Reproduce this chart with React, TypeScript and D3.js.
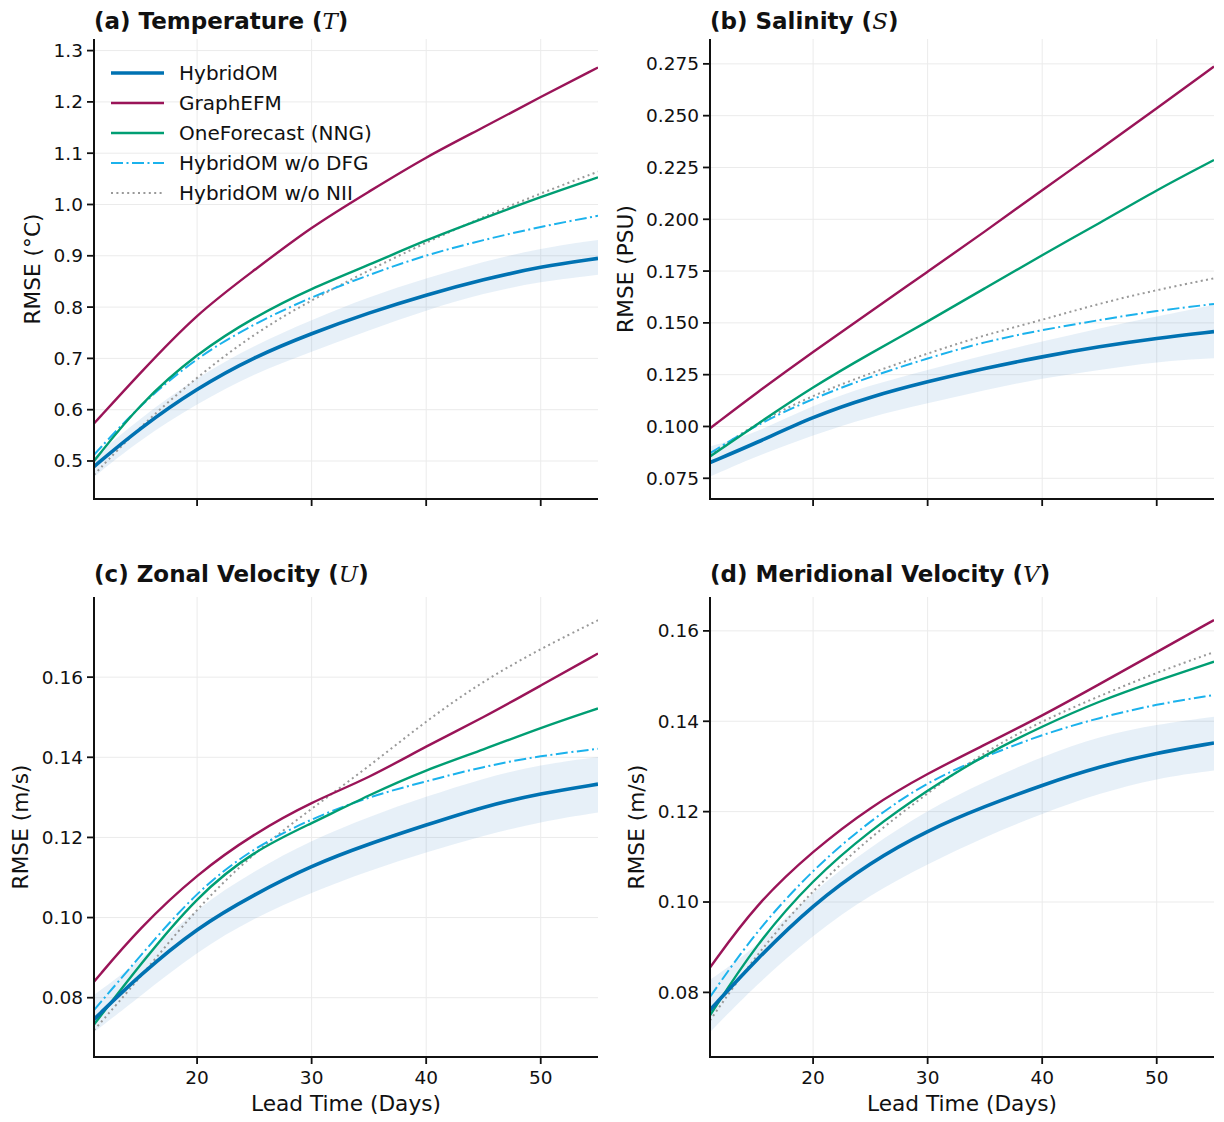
import React from "react";
import * as d3 from "d3";

const DAYS = [11, 15, 20, 25, 30, 35, 40, 45, 50, 55];

// Panel (a) Temperature
const T_HYBRID = [0.489, 0.564, 0.642, 0.703, 0.749, 0.789, 0.824, 0.854, 0.879, 0.895];
const T_HYBRID_LO = [0.469, 0.541, 0.612, 0.671, 0.713, 0.755, 0.794, 0.827, 0.85, 0.863];
const T_HYBRID_HI = [0.508, 0.583, 0.664, 0.726, 0.775, 0.82, 0.856, 0.889, 0.915, 0.931];
const T_GRAPHEFM = [0.573, 0.671, 0.788, 0.872, 0.957, 1.025, 1.093, 1.15, 1.21, 1.267];
const T_ONEFC = [0.5, 0.612, 0.71, 0.781, 0.837, 0.882, 0.931, 0.973, 1.015, 1.053];
const T_NODFG = [0.512, 0.609, 0.703, 0.768, 0.82, 0.863, 0.902, 0.931, 0.957, 0.978];
const T_NONII = [0.473, 0.567, 0.664, 0.749, 0.814, 0.872, 0.926, 0.976, 1.022, 1.064];

// Panel (b) Salinity
const S_HYBRID = [0.0826, 0.0919, 0.1048, 0.1144, 0.1217, 0.1281, 0.1337, 0.1386, 0.1426, 0.1458];
const S_HYBRID_LO = [0.0758, 0.0855, 0.0959, 0.1048, 0.1112, 0.1176, 0.1233, 0.1273, 0.1313, 0.1329];
const S_HYBRID_HI = [0.0903, 0.0967, 0.1104, 0.12, 0.1273, 0.1345, 0.141, 0.1474, 0.153, 0.1587];
const S_GRAPHEFM = [0.0991, 0.116, 0.1361, 0.1554, 0.1747, 0.194, 0.2142, 0.2335, 0.2536, 0.2737];
const S_ONEFC = [0.0855, 0.1007, 0.1192, 0.1353, 0.1506, 0.1667, 0.1828, 0.1981, 0.2142, 0.2286];
const S_NODFG = [0.0871, 0.1007, 0.1136, 0.1241, 0.1329, 0.141, 0.1466, 0.1514, 0.1559, 0.1591];
const S_NONII = [0.0863, 0.1015, 0.1152, 0.1257, 0.1353, 0.1442, 0.1514, 0.1594, 0.1659, 0.1715];

// Panel (c) Zonal velocity
const U_HYBRID = [0.0746, 0.0857, 0.0975, 0.1058, 0.113, 0.1184, 0.1231, 0.1277, 0.131, 0.1333];
const U_HYBRID_LO = [0.0714, 0.0803, 0.0916, 0.1, 0.1063, 0.1117, 0.1163, 0.1205, 0.1239, 0.1262];
const U_HYBRID_HI = [0.0807, 0.0891, 0.1025, 0.1117, 0.1193, 0.1252, 0.1302, 0.1348, 0.1382, 0.1401];
const U_GRAPHEFM = [0.084, 0.0975, 0.1109, 0.121, 0.1289, 0.1348, 0.1428, 0.1499, 0.1579, 0.1659];
const U_ONEFC = [0.0733, 0.0882, 0.1054, 0.1168, 0.1235, 0.1306, 0.1369, 0.1419, 0.1474, 0.1522];
const U_NODFG = [0.0769, 0.0903, 0.1067, 0.1176, 0.1247, 0.1302, 0.134, 0.1377, 0.1404, 0.1421];
const U_NONII = [0.0719, 0.0849, 0.1025, 0.1163, 0.1272, 0.1377, 0.1491, 0.1591, 0.1671, 0.1742];

// Panel (d) Meridional velocity
const V_HYBRID = [0.0761, 0.0872, 0.0995, 0.1088, 0.1159, 0.1212, 0.1259, 0.13, 0.133, 0.1352];
const V_HYBRID_LO = [0.0712, 0.0816, 0.0928, 0.1017, 0.1084, 0.1144, 0.1196, 0.1241, 0.1274, 0.1291];
const V_HYBRID_HI = [0.0828, 0.0898, 0.1025, 0.1122, 0.1204, 0.1267, 0.1322, 0.1367, 0.1393, 0.141];
const V_GRAPHEFM = [0.0855, 0.0995, 0.1114, 0.1211, 0.1285, 0.1348, 0.1412, 0.1482, 0.1553, 0.1624];
const V_ONEFC = [0.0749, 0.0906, 0.1051, 0.1159, 0.1248, 0.1326, 0.1389, 0.1445, 0.149, 0.1532];
const V_NODFG = [0.079, 0.0935, 0.1073, 0.1181, 0.1267, 0.1322, 0.1371, 0.1408, 0.1438, 0.1458];
const V_NONII = [0.0738, 0.0883, 0.1028, 0.1144, 0.1241, 0.1334, 0.1401, 0.1456, 0.1508, 0.1553];

const X_TICKS = [20, 30, 40, 50];
const T_TICKS = [0.5, 0.6, 0.7, 0.8, 0.9, 1.0, 1.1, 1.2, 1.3];
const S_TICKS = [0.075, 0.1, 0.125, 0.15, 0.175, 0.2, 0.225, 0.25, 0.275];
const U_TICKS = [0.08, 0.1, 0.12, 0.14, 0.16];
const V_TICKS = [0.08, 0.1, 0.12, 0.14, 0.16];

const SERIES_NAMES = ["HybridOM", "GraphEFM", "OneForecast (NNG)", "HybridOM w/o DFG", "HybridOM w/o NII"];

const STYLES = [
  { color: "#0072B2", width: 3.6, dash: null },
  { color: "#9A1458", width: 2.4, dash: null },
  { color: "#009E73", width: 2.4, dash: null },
  { color: "#1BB2EC", width: 2.0, dash: "12,3.5,2,3.5" },
  { color: "#999999", width: 2.0, dash: "2,3.4" },
];

const FONT = "DejaVu Sans, Verdana, sans-serif";

const PANELS = [
  { tag: "(a) Temperature (", sym: "T", ylabel: "RMSE (°C)", domain: [0.4259, 1.3226], ticks: T_TICKS, fmt: ".1f",
    series: [T_HYBRID, T_GRAPHEFM, T_ONEFC, T_NODFG, T_NONII], lo: T_HYBRID_LO, hi: T_HYBRID_HI,
    left: 94, top: 39, titleY: 29, ylabX: 32, legend: true, xlabels: false },
  { tag: "(b) Salinity (", sym: "S", ylabel: "RMSE (PSU)", domain: [0.065, 0.287], ticks: S_TICKS, fmt: ".3f",
    series: [S_HYBRID, S_GRAPHEFM, S_ONEFC, S_NODFG, S_NONII], lo: S_HYBRID_LO, hi: S_HYBRID_HI,
    left: 710, top: 39, titleY: 29, ylabX: 625, legend: false, xlabels: false },
  { tag: "(c) Zonal Velocity (", sym: "U", ylabel: "RMSE (m/s)", domain: [0.0652, 0.18], ticks: U_TICKS, fmt: ".2f",
    series: [U_HYBRID, U_GRAPHEFM, U_ONEFC, U_NODFG, U_NONII], lo: U_HYBRID_LO, hi: U_HYBRID_HI,
    left: 94, top: 597, titleY: 582, ylabX: 20, legend: false, xlabels: true },
  { tag: "(d) Meridional Velocity (", sym: "V", ylabel: "RMSE (m/s)", domain: [0.0657, 0.1675], ticks: V_TICKS, fmt: ".2f",
    series: [V_HYBRID, V_GRAPHEFM, V_ONEFC, V_NODFG, V_NONII], lo: V_HYBRID_LO, hi: V_HYBRID_HI,
    left: 710, top: 597, titleY: 582, ylabX: 636, legend: false, xlabels: true },
];

const PW = 504;
const PH = 460;

function Panel({ p, idx }: { p: any; idx: number }) {
  const x = d3.scaleLinear().domain([11, 55]).range([p.left, p.left + PW]);
  const y = d3.scaleLinear().domain(p.domain).range([p.top + PH, p.top]);
  const bottom = p.top + PH;
  const fmt = d3.format(p.fmt);
  const line = d3
    .line<number>()
    .x((_, i) => x(DAYS[i]))
    .y((v) => y(v))
    .curve(d3.curveBasis);
  const area = d3
    .area<number>()
    .x((_, i) => x(DAYS[i]))
    .y0((_, i) => y(p.lo[i]))
    .y1((_, i) => y(p.hi[i]))
    .curve(d3.curveBasis);
  const clipId = `clip${idx}`;
  const drawOrder = [4, 3, 2, 1, 0];
  return (
    <g>
      <defs>
        <clipPath id={clipId}>
          <rect x={p.left} y={p.top} width={PW} height={PH} />
        </clipPath>
      </defs>
      {p.ticks.map((t: number) => (
        <line key={"gy" + t} x1={p.left} x2={p.left + PW} y1={y(t)} y2={y(t)} stroke="#ebebeb" strokeWidth={1} />
      ))}
      {X_TICKS.map((t) => (
        <line key={"gx" + t} x1={x(t)} x2={x(t)} y1={p.top} y2={bottom} stroke="#ebebeb" strokeWidth={1} />
      ))}
      <g clipPath={`url(#${clipId})`}>
        <path d={area(p.lo) || ""} fill="#3d85c6" fillOpacity={0.12} stroke="none" />
        {drawOrder.map((k) => (
          <path
            key={k}
            d={line(p.series[k]) || ""}
            fill="none"
            stroke={STYLES[k].color}
            strokeWidth={STYLES[k].width}
            strokeDasharray={STYLES[k].dash || undefined}
          />
        ))}
      </g>
      <line x1={p.left} x2={p.left} y1={p.top} y2={bottom + 1} stroke="#111" strokeWidth={2} />
      <line x1={p.left - 1} x2={p.left + PW} y1={bottom} y2={bottom} stroke="#111" strokeWidth={2} />
      {p.ticks.map((t: number) => (
        <g key={"ty" + t}>
          <line x1={p.left - 7} x2={p.left} y1={y(t)} y2={y(t)} stroke="#111" strokeWidth={1.8} />
          <text x={p.left - 11} y={y(t)} dy="0.35em" textAnchor="end" fontSize={18.5} fontFamily={FONT} fill="#111">
            {fmt(t)}
          </text>
        </g>
      ))}
      {X_TICKS.map((t) => (
        <g key={"tx" + t}>
          <line x1={x(t)} x2={x(t)} y1={bottom} y2={bottom + 7} stroke="#111" strokeWidth={1.8} />
          {p.xlabels && (
            <text x={x(t)} y={bottom + 14} dy="0.71em" textAnchor="middle" fontSize={18.5} fontFamily={FONT} fill="#111">
              {t}
            </text>
          )}
        </g>
      ))}
      {p.xlabels && (
        <text x={p.left + PW / 2} y={bottom + 54} textAnchor="middle" fontSize={21.7} fontFamily={FONT} fill="#111">
          Lead Time (Days)
        </text>
      )}
      <text
        transform={`translate(${p.ylabX},${p.top + PH / 2}) rotate(-90)`}
        textAnchor="middle"
        dy="0.35em"
        fontSize={21.7}
        fontFamily={FONT}
        fill="#111"
      >
        {p.ylabel}
      </text>
      <text x={p.left} y={p.titleY} fontSize={23} fontWeight="bold" fontFamily={FONT} fill="#111">
        {p.tag}
        <tspan fontFamily="DejaVu Serif, Liberation Serif, serif" fontStyle="italic" fontWeight="normal">
          {p.sym}
        </tspan>
        )
      </text>
      {p.legend && (
        <g>
          {SERIES_NAMES.map((name, k) => {
            const ly = p.top + 34 + k * 30;
            return (
              <g key={name}>
                <line
                  x1={p.left + 17}
                  x2={p.left + 70}
                  y1={ly}
                  y2={ly}
                  stroke={STYLES[k].color}
                  strokeWidth={STYLES[k].width}
                  strokeDasharray={STYLES[k].dash || undefined}
                />
                <text x={p.left + 85} y={ly} dy="0.35em" fontSize={20} fontFamily={FONT} fill="#111">
                  {name}
                </text>
              </g>
            );
          })}
        </g>
      )}
    </g>
  );
}

export default function App() {
  return (
    <svg
      width={1224}
      height={1122}
      viewBox="0 0 1224 1122"
      style={{ position: "absolute", left: 0, top: 0, background: "#fff" }}
    >
      <rect x={0} y={0} width={1224} height={1122} fill="#fff" />
      {PANELS.map((p, i) => (
        <Panel key={i} p={p} idx={i} />
      ))}
    </svg>
  );
}
